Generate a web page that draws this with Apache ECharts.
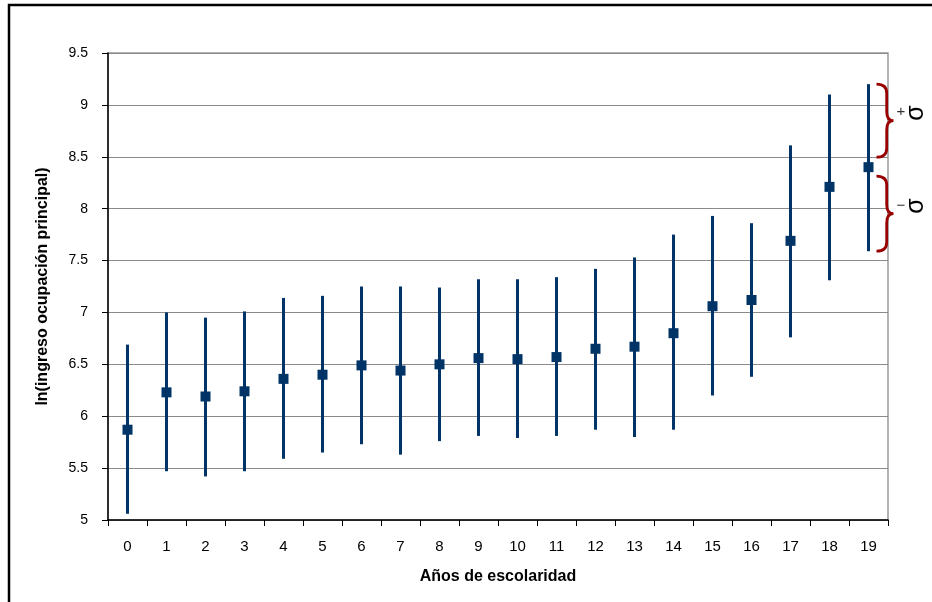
<!DOCTYPE html>
<html>
<head>
<meta charset="utf-8">
<script src="https://cdn.jsdelivr.net/npm/echarts@6/dist/echarts.min.js"></script>
<style>html,body{margin:0;padding:0;background:#fff}#c{width:932px;height:602px}</style>
</head>
<body>
<div id="c"></div>
<script>
const years = ['0','1','2','3','4','5','6','7','8','9','10','11','12','13','14','15','16','17','18','19'];
const means = [5.87, 6.23, 6.19, 6.24, 6.36, 6.40, 6.49, 6.44, 6.50, 6.56, 6.55, 6.57, 6.65, 6.67, 6.80, 7.06, 7.12, 7.69, 8.21, 8.40];
const upper = [6.69, 7.00, 6.95, 7.01, 7.14, 7.16, 7.25, 7.25, 7.24, 7.32, 7.32, 7.34, 7.42, 7.53, 7.75, 7.93, 7.86, 8.61, 9.10, 9.20];
const lower = [5.06, 5.47, 5.42, 5.47, 5.59, 5.65, 5.73, 5.63, 5.76, 5.81, 5.79, 5.81, 5.87, 5.80, 5.87, 6.20, 6.38, 6.76, 7.31, 7.59];
const yTicks = { min: 5, max: 9.5, interval: 0.5 };

const FONT = '"Liberation Sans", Arial, sans-serif';
const NAVY = '#003366';
const RED = '#990000';

function brace(x0, y0, y1, w) {
  const ym = (y0 + y1) / 2;
  const xm = x0 + w * 0.6, xt = x0 + w, r = 9;
  return 'M' + x0 + ' ' + y0 + ' Q' + xm + ' ' + y0 + ' ' + xm + ' ' + (y0 + r) +
         ' L' + xm + ' ' + (ym - r) + ' Q' + xm + ' ' + ym + ' ' + xt + ' ' + ym +
         ' Q' + xm + ' ' + ym + ' ' + xm + ' ' + (ym + r) +
         ' L' + xm + ' ' + (y1 - r) + ' Q' + xm + ' ' + y1 + ' ' + x0 + ' ' + y1;
}

const last = years.length - 1;

const chart = echarts.init(document.getElementById('c'), null, { renderer: 'canvas' });
chart.setOption({
  animation: false,
  backgroundColor: '#fff',
  grid: { left: 108, right: 44, top: 53, bottom: 82, show: true, borderColor: '#999', borderWidth: 1.5, backgroundColor: 'transparent' },
  xAxis: {
    type: 'category',
    data: years,
    boundaryGap: true,
    name: 'Años de escolaridad',
    nameLocation: 'middle',
    nameGap: 49,
    nameTextStyle: { fontFamily: FONT, fontSize: 16, fontWeight: 'bold', color: '#000' },
    axisLine: { lineStyle: { color: '#000', width: 1.5 } },
    axisTick: { show: true, interval: 0, length: 6, lineStyle: { color: '#000' } },
    axisLabel: { fontFamily: FONT, fontSize: 15, color: '#000', margin: 19, interval: 0 },
    splitLine: { show: false }
  },
  yAxis: {
    type: 'value',
    min: yTicks.min, max: yTicks.max, interval: yTicks.interval,
    name: 'ln(ingreso ocupación principal)',
    nameLocation: 'middle',
    nameGap: 57,
    nameTextStyle: { fontFamily: FONT, fontSize: 16, fontWeight: 'bold', color: '#000' },
    axisLine: { show: true, lineStyle: { color: '#000', width: 1.5 } },
    axisTick: { show: true, length: 6, lineStyle: { color: '#000' } },
    axisLabel: { fontFamily: FONT, fontSize: 14, color: '#000', margin: 20 },
    splitLine: { show: true, lineStyle: { color: '#8a8a8a', width: 1 } }
  },
  series: [
    {
      type: 'custom',
      data: years.map((y, i) => [i, lower[i], upper[i]]),
      encode: { x: 0, y: [1, 2] },
      renderItem: function (params, api) {
        const x = api.value(0);
        const lo = api.coord([x, api.value(1)]);
        const hi = api.coord([x, api.value(2)]);
        return { type: 'line', shape: { x1: hi[0], y1: hi[1], x2: lo[0], y2: lo[1] }, style: { stroke: NAVY, lineWidth: 3 } };
      },
      z: 2
    },
    {
      type: 'scatter',
      data: means.map((m, i) => [i, m]),
      symbol: 'rect',
      symbolSize: 10,
      itemStyle: { color: NAVY, opacity: 1 },
      z: 3
    },
    {
      type: 'custom',
      silent: true,
      data: [[last, upper[last], means[last], lower[last]]],
      encode: { x: 0, y: [1, 3] },
      renderItem: function (params, api) {
        const x = api.value(0);
        const hi = api.coord([x, api.value(1)]);
        const mid = api.coord([x, api.value(2)]);
        const lo = api.coord([x, api.value(3)]);
        const x0 = hi[0] + 8;
        return {
          type: 'group',
          children: [
            { type: 'path', shape: { pathData: brace(x0, hi[1], mid[1] - 10, 17) }, style: { stroke: RED, lineWidth: 2.8, fill: null } },
            { type: 'path', shape: { pathData: brace(x0, mid[1] + 9, lo[1], 17) }, style: { stroke: RED, lineWidth: 2.8, fill: null } }
          ]
        };
      },
      z: 4
    }
  ],
  graphic: [
    { type: 'polyline', shape: { points: [[9, 602], [9, 5], [932, 5]] }, style: { stroke: '#000', lineWidth: 2.5, fill: null } },
    { type: 'text', x: 901, y: 112, style: { text: '+', font: '15px ' + FONT, fill: '#333', align: 'center', verticalAlign: 'middle' } },
    { type: 'text', x: 916, y: 113, rotation: Math.PI / 2, style: { text: 'σ', font: '25px ' + FONT, fill: '#000', align: 'center', verticalAlign: 'middle' } },
    { type: 'text', x: 901, y: 206, style: { text: '−', font: '15px ' + FONT, fill: '#333', align: 'center', verticalAlign: 'middle' } },
    { type: 'text', x: 916, y: 206, rotation: Math.PI / 2, style: { text: 'σ', font: '25px ' + FONT, fill: '#000', align: 'center', verticalAlign: 'middle' } }
  ]
});
</script>
</body>
</html>
